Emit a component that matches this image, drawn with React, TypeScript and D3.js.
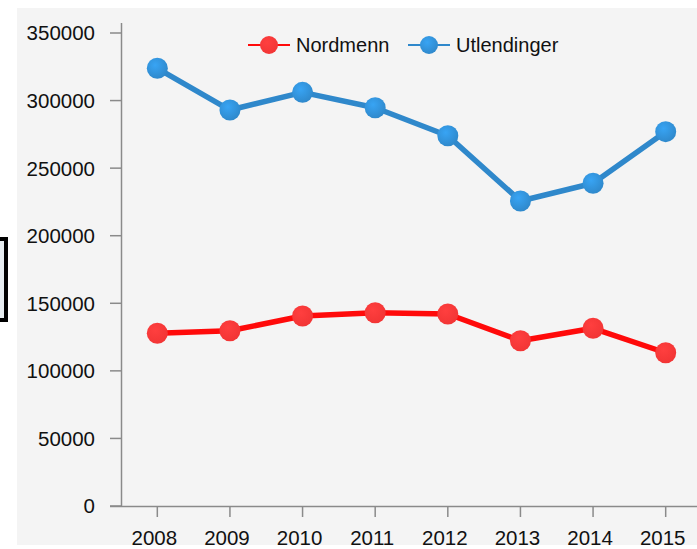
import * as d3 from 'd3';
import * as React from 'react';

// chart data
const years = ['2008', '2009', '2010', '2011', '2012', '2013', '2014', '2015'];
const nordmenn = [127800, 129700, 140600, 143000, 142100, 122300, 131500, 113400];
const utlendinger = [323900, 293000, 306100, 294700, 274000, 225700, 238800, 277000];
const yTicks = [0, 50000, 100000, 150000, 200000, 250000, 300000, 350000];

const seriesNames = ['Nordmenn', 'Utlendinger'];
const seriesColors = ['#ff0a0a', '#2f88cb'];
const markerColors = ['#f23535', '#2f89cc'];

const W = 697;
const H = 549;
const FONT = '"Liberation Sans", Arial, sans-serif';

const App = () => {
  const x = d3.scalePoint<string>().domain(years).range([121, 702]).padding(0.5);
  const y = d3.scaleLinear().domain([0, 350000]).range([506, 33]);

  const line = d3.line<number>()
    .x((d, i) => x(years[i]) as number)
    .y(d => y(d));

  const data = [nordmenn, utlendinger];

  return (
    <div style={{ position: 'absolute', left: 0, top: 0 }}>
      <svg width={W} height={H} style={{ display: 'block' }}>
        <defs>
          {markerColors.map((c, i) => (
            <radialGradient key={i} id={`mk${i}`} cx='40%' cy='35%' r='65%'>
              <stop offset='0%' stopColor={d3.color(c).brighter(0.5).formatHex()} />
              <stop offset='100%' stopColor={c} />
            </radialGradient>
          ))}
        </defs>
        <rect x={0} y={0} width={W} height={H} fill='#ffffff' />
        <rect x={17} y={8} width={W - 17} height={537} fill='#f4f4f4' />

        {/* partial box at the left edge */}
        <rect x={-10} y={239} width={16} height={81} fill='#e6ecf0' stroke='#000' strokeWidth={4} />

        {/* y axis */}
        <line x1={121.5} x2={121.5} y1={23} y2={506} stroke='#8a8a8a' strokeWidth={1.5} />
        {yTicks.map(t => (
          <g key={t} transform={`translate(0, ${y(t)})`}>
            <line x1={110} x2={121} stroke='#8a8a8a' strokeWidth={1.5} />
            <text x={95} dy='0.36em' textAnchor='end' fontFamily={FONT} fontSize={20.5} fill='#111'>
              {t}
            </text>
          </g>
        ))}

        {/* x axis */}
        <line x1={110} x2={W} y1={506.5} y2={506.5} stroke='#8a8a8a' strokeWidth={1.5} />
        {years.map(yr => (
          <g key={yr} transform={`translate(${x(yr)}, 0)`}>
            <line y1={506} y2={517} stroke='#8a8a8a' strokeWidth={1.5} />
            <text x={-3} y={545} textAnchor='middle' fontFamily={FONT} fontSize={20.5} fill='#111'>
              {yr}
            </text>
          </g>
        ))}

        {/* series */}
        {data.map((vals, si) => (
          <g key={si}>
            <path d={line(vals) as string} fill='none' stroke={seriesColors[si]} strokeWidth={5.5}
              strokeLinejoin='round' strokeLinecap='round' />
            {vals.map((v, i) => (
              <circle key={i} cx={x(years[i])} cy={y(v)} r={10.5} fill={`url(#mk${si})`} />
            ))}
          </g>
        ))}

        {/* legend */}
        {seriesNames.map((name, i) => {
          const lx = i === 0 ? 248 : 408;
          return (
            <g key={name} transform={`translate(${lx}, 45)`}>
              <line x1={0} x2={42} stroke={seriesColors[i]} strokeWidth={2} />
              <circle cx={21} cy={0} r={9} fill={`url(#mk${i})`} />
              <text x={48} y={7} fontFamily={FONT} fontSize={20} fill='#111'>{name}</text>
            </g>
          );
        })}
      </svg>
    </div>
  );
};

export default App;
